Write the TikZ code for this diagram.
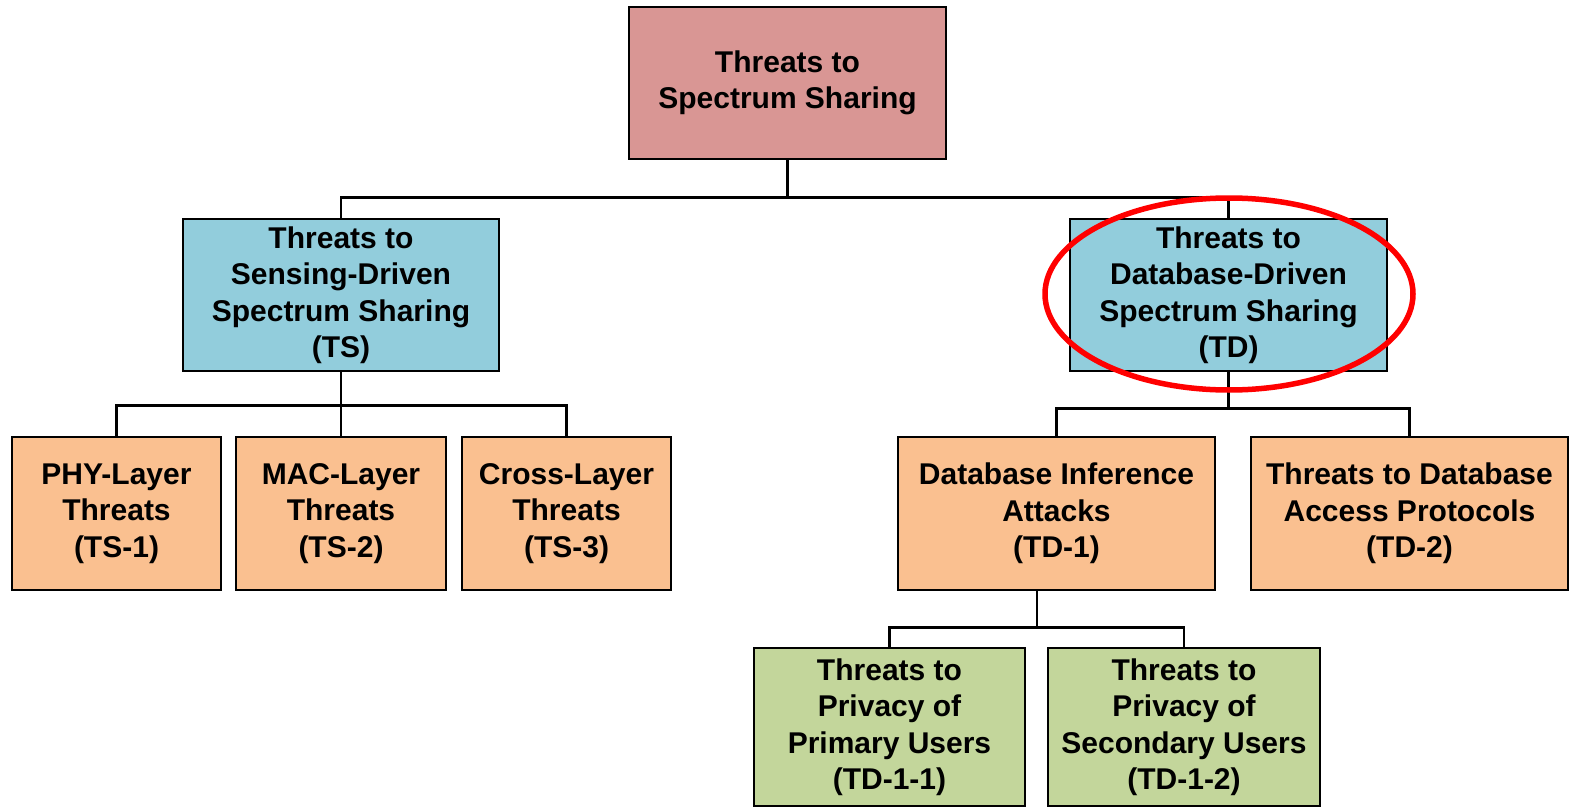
\documentclass[tikz,border=0pt]{standalone}
\usepackage{fontspec}
\setmainfont{Liberation Sans}
\definecolor{rootc}{HTML}{D99694}
\definecolor{bluec}{HTML}{92CDDC}
\definecolor{orangec}{HTML}{FAC090}
\definecolor{greenc}{HTML}{C3D69B}
\definecolor{redc}{HTML}{FF0000}
\begin{document}
\begin{tikzpicture}[x=1pt,y=-1pt,
  box/.style={draw=black,line width=2.7pt,align=center,inner sep=0pt,
    font=\fontsize{30}{36.5}\selectfont\bfseries,text=black},
  conn/.style={draw=black,line width=2.4pt},
  hl/.style={draw=redc,line width=5.5pt}]
\useasboundingbox (0,0) rectangle (1583,808);
\node[box,fill=rootc,minimum width=317pt,minimum height=152pt] (root) at (787.5,83) {Threats to\\Spectrum Sharing};
\node[box,fill=bluec,minimum width=316pt,minimum height=152pt] (ts) at (341,295) {Threats to\\Sensing-Driven\\Spectrum Sharing\\(TS)};
\node[box,fill=bluec,minimum width=317pt,minimum height=152pt] (td) at (1228.5,295) {Threats to\\Database-Driven\\Spectrum Sharing\\(TD)};
\node[box,fill=orangec,minimum width=209pt,minimum height=153pt] (ts1) at (116.5,513.5) {PHY-Layer\\Threats\\(TS-1)};
\node[box,fill=orangec,minimum width=210pt,minimum height=153pt] (ts2) at (341,513.5) {MAC-Layer\\Threats\\(TS-2)};
\node[box,fill=orangec,minimum width=209pt,minimum height=153pt] (ts3) at (566.5,513.5) {Cross-Layer\\Threats\\(TS-3)};
\node[box,fill=orangec,minimum width=317pt,minimum height=153pt] (td1) at (1056.5,513.5) {Database Inference\\Attacks\\(TD-1)};
\node[box,fill=orangec,minimum width=317pt,minimum height=153pt] (td2) at (1409.5,513.5) {Threats to Database\\Access Protocols\\(TD-2)};
\node[box,fill=greenc,minimum width=271pt,minimum height=158pt] (td11) at (889.5,727) {Threats to\\Privacy of\\Primary Users\\(TD-1-1)};
\node[box,fill=greenc,minimum width=272pt,minimum height=158pt] (td12) at (1184,727) {Threats to\\Privacy of\\Secondary Users\\(TD-1-2)};
% connectors
\draw[conn] (root.south) -- ++(0,37) -| (ts.north);
\draw[conn] (root.south) -- ++(0,37) -| (td.north);
\draw[conn] (ts.south) -- ++(0,33) -| (ts1.north);
\draw[conn] (ts.south) -- (ts2.north);
\draw[conn] (ts.south) -- ++(0,33) -| (ts3.north);
\draw[conn] (td.south) -- ++(0,36) -| (td1.north);
\draw[conn] (td.south) -- ++(0,36) -| (td2.north);
\coordinate (td1b) at ([xshift=-19.5pt]td1.south);
\draw[conn] (td1b) -- ++(0,36) -| (td11.north);
\draw[conn] (td1b) -- ++(0,36) -| (td12.north);
% highlight
\draw[hl] (1229,294) ellipse [x radius=184, y radius=96];
\end{tikzpicture}
\end{document}
